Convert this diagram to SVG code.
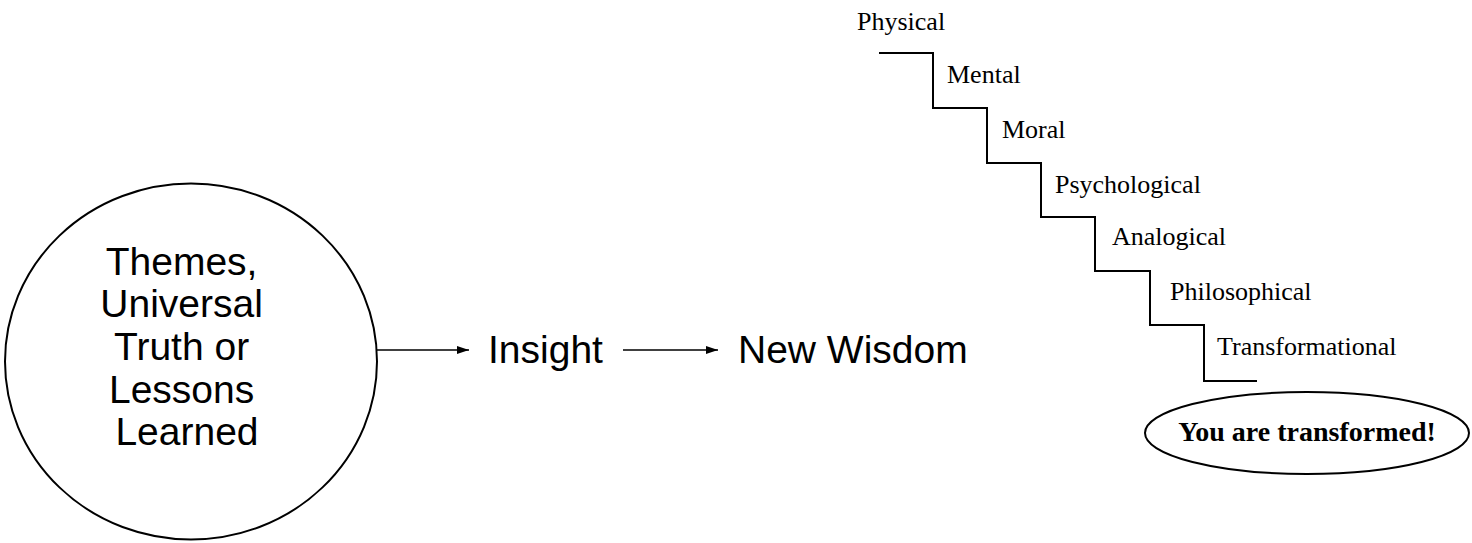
<svg xmlns="http://www.w3.org/2000/svg" width="1472" height="543" viewBox="0 0 1472 543">
<defs>
<style>
.sans{font-family:"Liberation Sans",Arial,sans-serif;font-size:39px;fill:#000}
.serif{font-family:"Liberation Serif","Times New Roman",serif;font-size:26px;fill:#000}
.bold{font-family:"Liberation Serif","Times New Roman",serif;font-size:28px;font-weight:bold;fill:#000}
.shape{fill:#fff;stroke:#000;stroke-width:2}
.conn{stroke:#000;stroke-width:1.5;fill:none}
</style>
<marker id="arr" viewBox="0 0 12 8" refX="12" refY="4" markerWidth="12" markerHeight="8" markerUnits="userSpaceOnUse" orient="auto">
<path d="M0,0 L12,4 L0,8 Z" fill="#000"/>
</marker>
</defs>
<rect width="1472" height="543" fill="#fff"/>
<g id="themes">
<ellipse class="shape" cx="191" cy="361.5" rx="186" ry="178"/>
<text class="sans" text-anchor="middle">
<tspan x="187" y="275">Themes,</tspan>
<tspan x="187" y="317">Universal</tspan>
<tspan x="187" y="360">Truth or</tspan>
<tspan x="187" y="403">Lessons</tspan>
<tspan x="187" y="445">Learned</tspan>
</text>
</g>
<g id="insight"><text class="sans" x="488" y="363">Insight</text></g>
<g id="wisdom"><text class="sans" x="738" y="363">New Wisdom</text></g>
<g id="connectors">
<line class="conn" x1="377" y1="350" x2="469" y2="350" marker-end="url(#arr)"/>
<line class="conn" x1="623" y1="350" x2="718" y2="350" marker-end="url(#arr)"/>
</g>
<g id="stairs">
<polyline points="879,53 933,53 933,108 987,108 987,163 1041,163 1041,217 1095,217 1095,271 1150,271 1150,325 1204,325 1204,381 1257,381" fill="none" stroke="#000" stroke-width="2"/>
<text class="serif" x="857" y="30">Physical</text>
<text class="serif" x="947" y="83">Mental</text>
<text class="serif" x="1002" y="138">Moral</text>
<text class="serif" x="1055" y="193">Psychological</text>
<text class="serif" x="1112" y="245">Analogical</text>
<text class="serif" x="1170" y="300">Philosophical</text>
<text class="serif" x="1217" y="355">Transformational</text>
</g>
<g id="transformed">
<ellipse class="shape" cx="1307" cy="433" rx="162" ry="41"/>
<text class="bold" x="1307" y="441" text-anchor="middle">You are transformed!</text>
</g>
</svg>
